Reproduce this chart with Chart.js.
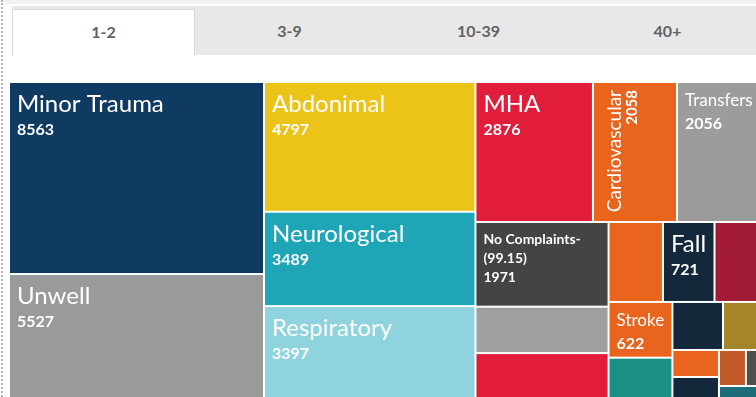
<!DOCTYPE html>
<html lang="en">
<head>
  <meta charset="UTF-8">
  <meta name="viewport" content="width=device-width, initial-scale=1.0">
  <title>Attendances by Presenting Complaint</title>
  <script src="https://cdn.jsdelivr.net/npm/chart.js"></script>
  <style>
    html, body {
      margin: 0;
      padding: 0;
      width: 756px;
      height: 397px;
      overflow: hidden;
      background: #fff;
      font-family: Lato, "Open Sans", sans-serif;
    }
    .edge {
      position: absolute;
      left: 1px;
      top: 0;
      bottom: 0;
      border-left: 2px dotted #b3b3b3;
    }
    .topband {
      position: absolute;
      left: 4px;
      right: 0;
      top: 0;
      height: 4px;
      background: #f2f2f2;
    }
    .tabs {
      position: absolute;
      left: 12px;
      top: 6px;
      width: 750px;
      height: 49px;
      background: #e8e8e8;
      display: flex;
    }
    .tab {
      flex: 1;
      height: 49px;
      line-height: 50px;
      text-align: center;
      font-size: 16px;
      font-weight: bold;
      color: #636363;
    }
    .tab.active {
      flex: 0 0 183px;
      box-sizing: border-box;
      margin-top: 3px;
      height: 47px;
      line-height: 44px;
      background: #fff;
      border: 1px solid #dadada;
      border-bottom: none;
    }
    #treemap {
      position: absolute;
      left: 9px;
      top: 82px;
    }
  </style>
</head>
<body>
  <div class="topband"></div>
  <div class="edge"></div>
  <div class="tabs" id="tabs"></div>
  <canvas id="treemap" width="752" height="316"></canvas>

  <script>
    // age bands shown as tabs
    const bands = ['1-2', '3-9', '10-39', '40+'];
    const activeBand = '1-2';

    // attendances per complaint, largest first (blank name = no label in cell)
    const complaints = [
      'Minor Trauma', 'Unwell', 'Abdonimal', 'Neurological', 'Respiratory',
      'MHA', 'Cardiovascular', 'Transfers', 'No Complaints-(99.15)', '', '',
      '', 'Fall', '', 'Stroke', '', '', '', '', '', '', '', ''
    ];
    const attendances = [
      8563, 5527, 4797, 3489, 3397,
      2876, 2058, 2056, 1971, 1080, 1045,
      760, 721, 650, 622, 450, 425, 319, 220, 171, 170, 95, 88
    ];
    const colours = [
      '#0f3b62', '#9a9a9a', '#ebc417', '#1ea5b6', '#8fd3de',
      '#e21d3b', '#e9641d', '#9c9c9c', '#444444', '#9f9f9f', '#e31c3a',
      '#e9641d', '#14283c', '#a21b35', '#e9641d', '#1b8e85', '#14283c',
      '#a5852a', '#e9641d', '#14283c', '#c25a27', '#4e4e4e', '#1d6c78'
    ];

    const tabBox = document.getElementById('tabs');
    bands.forEach(b => {
      const el = document.createElement('div');
      el.className = 'tab' + (b === activeBand ? ' active' : '');
      el.textContent = b;
      tabBox.appendChild(el);
    });

    // squarified layout (golden-ratio rows), returns rects in the given box
    function squarify(values, x0, y0, x1, y1) {
      const ratio = (1 + Math.sqrt(5)) / 2;
      const out = [];
      const n = values.length;
      let total = values.reduce((a, b) => a + b, 0);
      let i0 = 0;
      while (i0 < n) {
        const dx = x1 - x0, dy = y1 - y0;
        let i1 = i0;
        let sum = values[i1++];
        let min = sum, max = sum;
        const alpha = Math.max(dy / dx, dx / dy) / (total * ratio);
        let beta = sum * sum * alpha;
        let best = Math.max(max / beta, beta / min);
        for (; i1 < n; ++i1) {
          const v = values[i1];
          sum += v;
          if (v < min) min = v;
          if (v > max) max = v;
          beta = sum * sum * alpha;
          const r = Math.max(max / beta, beta / min);
          if (r > best) { sum -= v; break; }
          best = r;
        }
        if (dx < dy) {
          // row across the top
          const h = dy * sum / total;
          let x = x0;
          for (let i = i0; i < i1; i++) {
            const w = dx * values[i] / sum;
            out.push({ x0: x, y0: y0, x1: x + w, y1: y0 + h });
            x += w;
          }
          y0 += h;
        } else {
          // column down the left
          const w = dx * sum / total;
          let y = y0;
          for (let i = i0; i < i1; i++) {
            const h = dy * values[i] / sum;
            out.push({ x0: x0, y0: y, x1: x0 + w, y1: y + h });
            y += h;
          }
          x0 += w;
        }
        total -= sum;
        i0 = i1;
      }
      return out;
    }

    const NAME_MAX = 24;
    const VALUE_SIZE = 16;
    const PAD = 7;

    function drawLabel(ctx, name, value, x, y, w, h) {
      ctx.fillStyle = '#fff';
      ctx.textAlign = 'left';
      ctx.textBaseline = 'alphabetic';
      ctx.font = NAME_MAX + 'px Lato';
      const full = ctx.measureText(name).width;
      let size = Math.min(NAME_MAX, Math.floor(NAME_MAX * (w - PAD - 5) / full));
      if (size >= 14) {
        const base = y + 6 + Math.min(size, 23);
        ctx.font = size + 'px Lato';
        ctx.fillText(name, x + PAD, base);
        ctx.font = 'bold ' + VALUE_SIZE + 'px Lato';
        ctx.fillText(String(value), x + PAD, base + 23);
      } else if (h > w) {
        // tall narrow cell: run the label up the side
        size = Math.min(NAME_MAX, Math.floor(NAME_MAX * (h - PAD - 3) / full));
        ctx.save();
        ctx.translate(x, y);
        ctx.rotate(-Math.PI / 2);
        ctx.textAlign = 'right';
        ctx.font = size + 'px Lato';
        ctx.fillText(name, -PAD, 8 + size);
        ctx.font = 'bold ' + (VALUE_SIZE - 1) + 'px Lato';
        ctx.fillText(String(value), -PAD, 8 + size + 16);
        ctx.restore();
      } else {
        // wrap after the hyphen, small bold text
        const lines = name.replace('-', '-\n').split('\n').concat(String(value));
        ctx.font = 'bold 14px Lato';
        lines.forEach((line, k) => ctx.fillText(line, x + PAD, y + 21 + k * 19));
      }
    }

    const treemapCells = {
      id: 'treemapCells',
      afterDatasetsDraw(chart) {
        const { ctx, chartArea, scales } = chart;
        const aspect = chartArea.width / chartArea.height;
        const cells = squarify(attendances, 0, 0, aspect, 1);
        ctx.save();
        cells.forEach((c, i) => {
          const left = scales.x.getPixelForValue(c.x0 / aspect);
          const right = scales.x.getPixelForValue(c.x1 / aspect);
          const top = scales.y.getPixelForValue(c.y0);
          const bottom = scales.y.getPixelForValue(c.y1);
          const w = right - left - 2, h = bottom - top - 2;
          ctx.fillStyle = colours[i];
          ctx.fillRect(left + 1, top + 1, w, h);
          if (complaints[i]) {
            drawLabel(ctx, complaints[i], attendances[i], left + 1, top + 1, w, h);
          }
        });
        ctx.restore();
      }
    };

    new Chart(document.getElementById('treemap'), {
      type: 'scatter',
      data: { datasets: [{ label: 'Attendances', data: [] }] },
      options: {
        responsive: false,
        animation: false,
        events: [],
        layout: { padding: 0 },
        plugins: { legend: { display: false }, tooltip: { enabled: false } },
        scales: {
          x: { type: 'linear', min: 0, max: 1, display: false },
          y: { type: 'linear', min: 0, max: 1, reverse: true, display: false }
        }
      },
      plugins: [treemapCells]
    });
  </script>
</body>
</html>
